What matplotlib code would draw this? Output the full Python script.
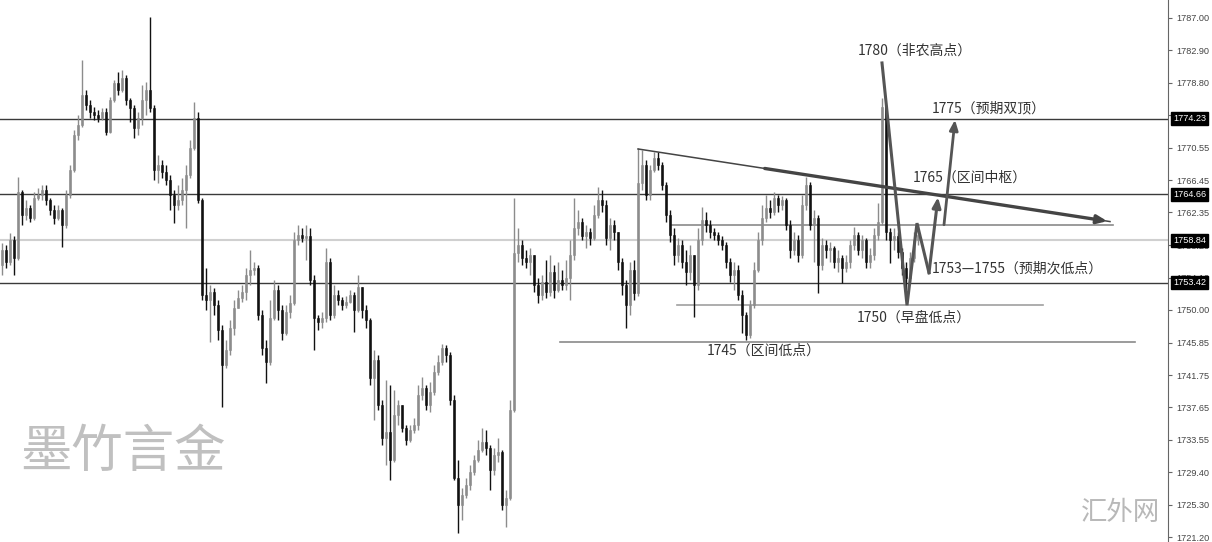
import numpy as np
import matplotlib
matplotlib.use('Agg')
import matplotlib.pyplot as plt
import matplotlib.transforms as mtransforms

plt.rcParams['font.family'] = ['Noto Sans CJK SC', 'DejaVu Sans']

# K线数据 (开盘价 = 上一根收盘价)
first_open = 1755.7
closes = [
    1757.6, 1756.1, 1758.9, 1756.6, 1765.0, 1762.0, 1762.9, 1761.7, 1764.2, 1764.6,
    1765.2, 1763.9, 1762.7, 1761.7, 1762.7, 1760.8, 1764.6, 1767.7, 1772.2, 1773.4,
    1777.2, 1776.0, 1775.1, 1774.7, 1774.3, 1775.1, 1772.6, 1776.6, 1778.8, 1777.9,
    1779.4, 1776.6, 1775.6, 1773.1, 1774.3, 1776.6, 1777.9, 1775.6, 1767.7, 1768.4,
    1767.5, 1766.5, 1764.6, 1763.3, 1763.9, 1765.2, 1767.1, 1770.5, 1774.3, 1763.9,
    1751.9, 1751.3, 1752.3, 1750.6, 1747.5, 1743.0, 1744.9, 1747.7, 1750.2, 1751.5,
    1752.3, 1754.4, 1755.1, 1755.3, 1749.4, 1745.2, 1743.4, 1749.0, 1752.5, 1750.0,
    1747.1, 1749.7, 1750.9, 1758.9, 1759.5, 1759.1, 1759.4, 1753.8, 1749.0, 1748.5,
    1749.0, 1756.1, 1749.4, 1751.9, 1751.3, 1750.6, 1751.0, 1751.9, 1750.0, 1752.9,
    1750.0, 1748.7, 1741.4, 1743.7, 1738.0, 1733.8, 1734.5, 1731.0, 1736.7, 1738.0,
    1735.0, 1733.5, 1734.8, 1735.4, 1739.2, 1740.1, 1738.0, 1739.6, 1742.1, 1743.4,
    1745.2, 1744.3, 1738.6, 1728.7, 1725.3, 1726.5, 1727.8, 1729.5, 1731.0, 1732.2,
    1733.3, 1732.5, 1729.7, 1731.6, 1732.0, 1725.3, 1726.2, 1737.3, 1757.2, 1758.2,
    1756.6, 1756.1, 1757.0, 1753.2, 1751.9, 1753.5, 1752.3, 1754.8, 1752.5, 1753.8,
    1753.2, 1754.1, 1757.0, 1760.4, 1761.1, 1759.4, 1759.9, 1759.1, 1762.0, 1763.9,
    1763.3, 1759.1, 1760.8, 1759.9, 1756.1, 1753.2, 1750.6, 1755.1, 1752.2, 1766.1,
    1768.4, 1764.6, 1767.7, 1769.3, 1768.4, 1765.8, 1762.0, 1759.5, 1757.0, 1758.2,
    1756.1, 1754.8, 1757.0, 1753.2, 1758.9, 1761.4, 1760.8, 1759.9, 1759.5, 1758.9,
    1758.2, 1756.1, 1754.4, 1755.1, 1751.9, 1749.4, 1746.8, 1750.6, 1755.1, 1758.9,
    1761.7, 1762.9, 1762.4, 1764.2, 1763.3, 1763.9, 1760.8, 1757.6, 1758.9, 1757.0,
    1763.3, 1765.8, 1760.8, 1761.7, 1755.7, 1758.2, 1757.6, 1757.9, 1756.1, 1756.6,
    1755.3, 1756.1, 1758.2, 1759.5, 1757.6, 1758.9, 1756.1, 1757.0, 1759.5, 1761.1,
    1775.7, 1759.9, 1758.9, 1759.4, 1757.3, 1755.3, 1754.1, 1756.6, 1758.9, 1759.5,
]
highs = [
    1758.5, 1758.2, 1759.8, 1759.4, 1766.9, 1765.2, 1763.9, 1763.3, 1765.0, 1765.5,
    1765.8, 1765.8, 1764.2, 1763.3, 1763.3, 1762.9, 1765.2, 1768.4, 1772.8, 1774.7,
    1781.7, 1777.9, 1776.6, 1775.7, 1775.3, 1775.6, 1775.6, 1777.0, 1779.1, 1780.2,
    1780.4, 1779.8, 1776.9, 1776.0, 1775.1, 1778.5, 1778.9, 1787.1, 1776.0, 1769.6,
    1769.0, 1768.4, 1767.1, 1765.2, 1765.8, 1766.7, 1768.4, 1771.5, 1776.4, 1775.1,
    1764.2, 1755.3, 1753.2, 1752.8, 1751.3, 1748.1, 1746.2, 1748.7, 1751.3, 1752.5,
    1753.2, 1755.3, 1757.6, 1756.1, 1755.7, 1750.0, 1746.2, 1751.3, 1753.8, 1753.2,
    1750.6, 1750.6, 1751.9, 1759.9, 1760.8, 1760.4, 1760.8, 1760.4, 1754.4, 1749.4,
    1749.7, 1757.9, 1756.6, 1753.2, 1752.5, 1751.6, 1751.8, 1752.5, 1752.3, 1754.4,
    1752.5, 1750.6, 1749.0, 1744.9, 1744.3, 1738.6, 1741.1, 1740.5, 1739.9, 1738.6,
    1738.0, 1735.4, 1735.4, 1736.3, 1740.5, 1741.5, 1740.5, 1740.9, 1743.0, 1744.3,
    1745.7, 1745.6, 1744.7, 1739.2, 1731.0, 1727.4, 1728.7, 1730.4, 1731.6, 1733.5,
    1735.0, 1734.8, 1732.9, 1732.5, 1733.8, 1732.2, 1727.2, 1738.6, 1764.2, 1760.4,
    1758.9, 1757.6, 1757.9, 1757.0, 1754.1, 1754.4, 1756.3, 1757.0, 1755.7, 1756.1,
    1755.1, 1756.3, 1758.9, 1764.2, 1762.7, 1761.7, 1760.8, 1760.4, 1763.3, 1765.6,
    1765.2, 1763.9, 1761.7, 1761.4, 1759.5, 1756.6, 1753.8, 1756.1, 1756.3, 1770.5,
    1770.3, 1769.0, 1768.4, 1770.0, 1770.0, 1768.8, 1766.2, 1762.7, 1760.4, 1759.1,
    1758.9, 1757.6, 1758.2, 1756.6, 1760.4, 1763.0, 1762.4, 1761.4, 1760.4, 1759.9,
    1759.4, 1758.6, 1756.6, 1756.1, 1755.7, 1752.5, 1749.7, 1751.3, 1756.1, 1759.9,
    1763.3, 1764.6, 1763.9, 1765.0, 1764.6, 1764.4, 1764.2, 1761.4, 1759.9, 1759.5,
    1764.6, 1766.9, 1766.2, 1762.7, 1762.0, 1759.1, 1758.9, 1758.6, 1758.1, 1757.6,
    1757.0, 1757.0, 1758.9, 1760.5, 1759.9, 1759.5, 1759.1, 1757.9, 1760.4, 1763.6,
    1776.9, 1775.3, 1760.4, 1760.4, 1759.9, 1757.9, 1756.1, 1757.3, 1759.9, 1760.8,
]
lows = [
    1754.4, 1755.3, 1755.7, 1754.4, 1756.3, 1760.8, 1761.4, 1761.1, 1761.4, 1763.9,
    1763.9, 1763.3, 1762.0, 1760.9, 1761.4, 1758.0, 1760.4, 1764.2, 1767.5, 1771.5,
    1773.2, 1775.3, 1774.3, 1774.1, 1773.8, 1774.1, 1772.2, 1772.4, 1776.4, 1777.2,
    1777.6, 1776.0, 1773.8, 1771.8, 1772.2, 1773.4, 1774.7, 1775.1, 1766.5, 1766.1,
    1766.7, 1765.8, 1762.7, 1761.0, 1762.7, 1763.3, 1760.4, 1766.7, 1770.3, 1763.6,
    1751.3, 1750.0, 1745.9, 1749.4, 1746.2, 1737.7, 1742.6, 1744.3, 1746.8, 1750.6,
    1751.0, 1751.3, 1753.2, 1754.4, 1748.7, 1744.3, 1740.7, 1743.0, 1748.7, 1748.7,
    1746.2, 1746.8, 1749.0, 1750.6, 1758.2, 1758.6, 1756.3, 1753.2, 1744.9, 1747.5,
    1747.7, 1748.5, 1748.7, 1749.0, 1750.6, 1750.0, 1750.2, 1750.9, 1747.2, 1749.7,
    1749.0, 1747.7, 1740.5, 1736.0, 1737.3, 1732.9, 1730.4, 1728.4, 1730.7, 1735.4,
    1734.5, 1732.9, 1733.3, 1734.4, 1734.8, 1738.6, 1737.3, 1737.1, 1739.2, 1741.8,
    1743.0, 1743.4, 1738.0, 1728.4, 1721.7, 1723.4, 1726.2, 1727.2, 1729.1, 1730.7,
    1732.0, 1731.6, 1727.2, 1729.1, 1730.7, 1724.6, 1722.5, 1725.9, 1737.1, 1756.1,
    1755.7, 1755.3, 1754.4, 1752.3, 1750.9, 1751.3, 1751.5, 1751.8, 1751.5, 1752.3,
    1752.5, 1752.5, 1751.3, 1756.3, 1759.5, 1758.9, 1757.9, 1758.2, 1758.9, 1761.7,
    1762.4, 1758.2, 1757.6, 1758.9, 1755.1, 1751.9, 1747.7, 1749.4, 1751.3, 1751.8,
    1765.2, 1763.9, 1763.9, 1767.5, 1767.7, 1765.2, 1761.1, 1758.6, 1755.7, 1756.1,
    1755.3, 1753.2, 1753.8, 1749.1, 1752.5, 1758.2, 1759.9, 1759.1, 1758.9, 1758.2,
    1757.6, 1755.3, 1753.5, 1752.5, 1751.3, 1747.1, 1746.2, 1746.4, 1750.2, 1754.8,
    1758.2, 1761.1, 1761.7, 1762.0, 1762.4, 1762.7, 1760.1, 1756.6, 1757.0, 1756.1,
    1756.6, 1762.7, 1760.1, 1756.1, 1752.2, 1755.1, 1756.6, 1756.1, 1755.3, 1754.8,
    1753.4, 1754.8, 1755.3, 1757.6, 1757.0, 1756.6, 1755.3, 1755.3, 1756.3, 1758.9,
    1760.8, 1758.9, 1756.0, 1757.6, 1756.6, 1754.4, 1751.3, 1753.5, 1756.1, 1758.2,
]

# 水平价位线
dark_levels = [1774.23, 1764.66, 1753.42]
light_level = 1758.84
tag_values = [1774.23, 1764.66, 1758.84, 1753.42]
short_levels = [1760.8, 1750.6, 1745.9]
short_starts = [167.5, 168.75, 139.5]
short_ends = [277.75, 260.25, 283.25]
short_colors = ['#8a8a8a', '#a0a0a0', '#8a8a8a']

tick_values = [1787.00, 1782.90, 1778.80, 1774.65, 1770.55, 1766.45, 1762.35, 1758.20,
               1754.10, 1750.00, 1745.85, 1741.75, 1737.65, 1733.55, 1729.40, 1725.30, 1721.20]

# 趋势线与路径
trend_x = [159, 277]
trend_y = [1770.4, 1761.2]
zig_x = [220, 226.25, 228.75, 231.75, 234.0]
zig_y = [1781.3, 1750.6, 1761.0, 1754.7, 1764.3]
up_x = [235.5, 238.25]
up_y = [1760.8, 1774.1]

labels = ['1780（非农高点）', '1775（预期双顶）', '1765（区间中枢）',
          '1753—1755（预期次低点）', '1750（早盘低点）', '1745（区间低点）']
label_x = [214, 232.5, 227.75, 232.5, 213.75, 176.25]
label_y = [1782.9, 1775.5, 1766.7, 1755.2, 1749.0, 1744.8]

fig = plt.figure(figsize=(12.12, 5.42), dpi=100)
ax = fig.add_axes([0, 0, 1168 / 1212, 1])
ax.set_xlim(-0.5, 291.5)
ax.set_ylim(1720.59, 1789.28)

opens = [first_open] + closes[:-1]
x = np.arange(len(closes))
o = np.array(opens)
c = np.array(closes)
h = np.maximum(np.array(highs), np.maximum(o, c))
l = np.minimum(np.array(lows), np.minimum(o, c))
up = c >= o
col = np.where(up, '#8c8c8c', '#111111')

# 价位线
for lv in dark_levels:
    ax.axhline(lv, color='#3a3a3a', lw=1, zorder=1)
ax.axhline(light_level, color='#d0d0d0', lw=1.5, zorder=1)
for lv, x0, x1, cc in zip(short_levels, short_starts, short_ends, short_colors):
    ax.plot([x0, x1], [lv, lv], color=cc, lw=1.2, zorder=1)

# K线
ax.vlines(x, l, h, colors=col, lw=1, zorder=2)
body_h = np.maximum(np.abs(c - o), 0.12)
ax.bar(x, body_h, bottom=np.minimum(o, c), width=0.62, color=col, edgecolor=col, lw=0.4, zorder=3)

# 趋势线
ax.plot(trend_x, trend_y, color='#444444', lw=1.1, zorder=4)
mid_y = trend_y[0] + (trend_y[1] - trend_y[0]) * (190 - trend_x[0]) / (trend_x[1] - trend_x[0])
ax.annotate('', xy=(trend_x[1], trend_y[1]), xytext=(190, mid_y),
            arrowprops=dict(arrowstyle='-|>,head_length=0.6,head_width=0.25', color='#444444', lw=2.4),
            zorder=4)

# 走势路径
ax.plot(zig_x[:-1], zig_y[:-1], color='#555555', lw=2.2, zorder=5, solid_joinstyle='miter')
ax.annotate('', xy=(zig_x[-1], zig_y[-1]), xytext=(zig_x[-2], zig_y[-2]),
            arrowprops=dict(arrowstyle='-|>,head_length=0.6,head_width=0.25', color='#555555', lw=2.2,
                            shrinkA=0, shrinkB=0), zorder=5)
ax.annotate('', xy=(up_x[1], up_y[1]), xytext=(up_x[0], up_y[0]),
            arrowprops=dict(arrowstyle='-|>,head_length=0.6,head_width=0.25', color='#555555', lw=2.0,
                            shrinkA=0, shrinkB=0), zorder=5)

for t, tx, ty in zip(labels, label_x, label_y):
    ax.text(tx, ty, t, fontsize=10, color='#333333', ha='left', va='center', zorder=6)

# 坐标轴
for s in ['top', 'bottom', 'left']:
    ax.spines[s].set_visible(False)
ax.spines['right'].set_color('#666666')
ax.set_xticks([])
ax.yaxis.tick_right()
ax.set_yticks(tick_values)
ax.set_yticklabels(['%.2f' % v for v in tick_values], fontsize=6.6, color='#444444', family='Liberation Sans')
ax.tick_params(axis='y', length=3, color='#666666', pad=3)

trans = mtransforms.blended_transform_factory(ax.transAxes, ax.transData)
for v in tag_values:
    ax.text(1.0045, v, '%.2f' % v, transform=trans, fontsize=6.6, color='white', family='Liberation Sans',
            ha='left', va='center', clip_on=False, zorder=10,
            bbox=dict(boxstyle='square,pad=0.22', fc='black', ec='black'))

# 水印
fig.text(0.017, 0.165, '墨竹言金', fontsize=37, color='#c0c0c0', ha='left', va='center')
fig.text(0.957, 0.055, '汇外网', fontsize=19, color='#b8b8b8', ha='right', va='center')

fig.savefig('out.png', dpi=100, facecolor='white')
